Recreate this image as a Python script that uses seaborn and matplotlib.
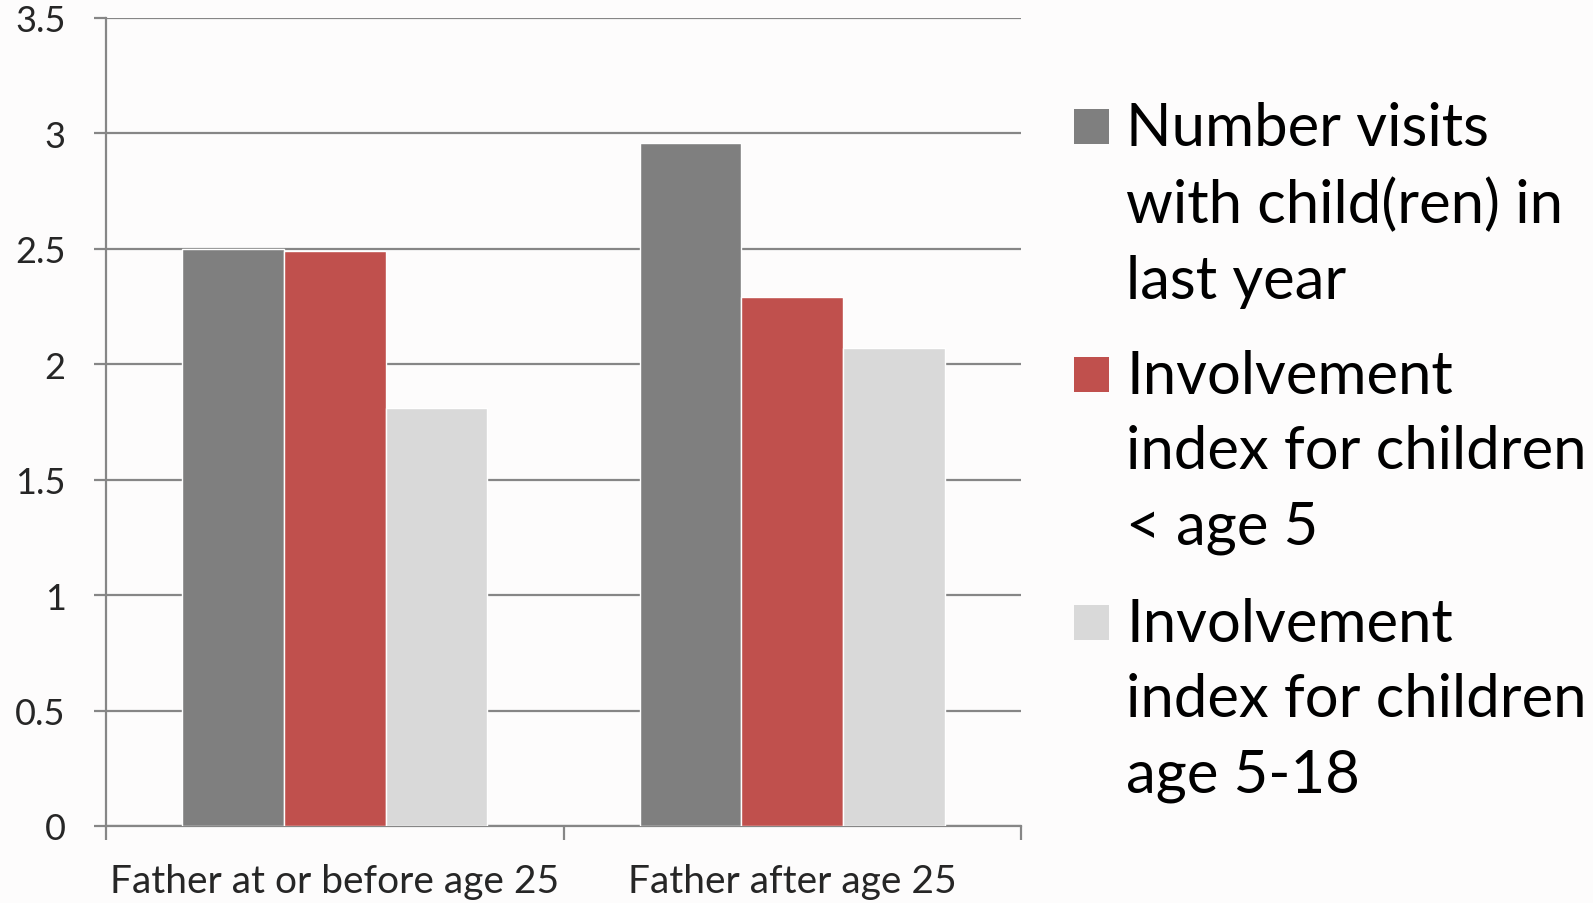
import pandas as pd
import matplotlib.pyplot as plt
import seaborn as sns
from matplotlib.patches import Rectangle

# data
categories = ["Father at or before age 25", "Father after age 25"]
series = [
    "Number visits\nwith child(ren) in\nlast year",
    "Involvement\nindex for children\n< age 5",
    "Involvement\nindex for children\nage 5-18",
]
visits = [2.50, 2.96]
invol_under5 = [2.49, 2.29]
invol_5_18 = [1.81, 2.07]
colors = ["#7F7F7F", "#C0504D", "#D9D9D9"]
yticks = [0, 0.5, 1, 1.5, 2, 2.5, 3, 3.5]
ytick_labels = ["0", "0.5", "1", "1.5", "2", "2.5", "3", "3.5"]

df = pd.DataFrame({
    "category": categories * 3,
    "series": [series[0]] * 2 + [series[1]] * 2 + [series[2]] * 2,
    "value": visits + invol_under5 + invol_5_18,
})

sns.set_style("white")
plt.rcParams["font.family"] = ["Lato", "DejaVu Sans"]
BG = "#FDFCFC"
GRID = "#868686"

fig = plt.figure(figsize=(15.93, 9.04), dpi=100)
fig.patch.set_facecolor(BG)
ax = fig.add_axes([0.0665, 0.0852, 0.5745, 0.8938])
ax.set_facecolor(BG)

sns.barplot(data=df, x="category", y="value", hue="series", palette=colors,
            width=0.667, gap=0, saturation=1, legend=False, ax=ax, zorder=3)

ax.set_xlim(-0.5, 1.5)
ax.set_ylim(0, 3.5)
ax.set_yticks(yticks)
ax.set_yticklabels(ytick_labels, fontsize=26)
ax.yaxis.grid(True, color=GRID, linewidth=1.6, zorder=0)
ax.set_axisbelow(True)
ax.tick_params(axis="y", length=9, width=1.6, color=GRID, pad=20, left=True)

ax.set_xticks([0, 1])
ax.set_xticklabels(categories, fontsize=28)
ax.set_xticks([-0.5, 0.5, 1.5], minor=True)
ax.tick_params(axis="x", which="major", length=0, pad=27)
ax.tick_params(axis="x", which="minor", length=10, width=1.6, color=GRID, bottom=True)
ax.set_xlabel("")
ax.set_ylabel("")

for side in ["top", "right"]:
    ax.spines[side].set_visible(False)
for side in ["left", "bottom"]:
    ax.spines[side].set_color(GRID)
    ax.spines[side].set_linewidth(1.6)

# legend drawn by hand so the square sits at the first line of each entry
W, H = 1593, 904
box_tops = [110, 358, 606]
for top, label, col in zip(box_tops, series, colors):
    fig.patches.append(Rectangle((1074 / W, 1 - (top + 35) / H), 35 / W, 35 / H,
                                 transform=fig.transFigure, facecolor=col,
                                 edgecolor="none"))
    fig.text(1126 / W, 1 - (top - 8) / H, label, fontsize=43, va="top",
             ha="left", linespacing=1.48, color="black")

plt.savefig("out.png", dpi=100, facecolor=BG)
